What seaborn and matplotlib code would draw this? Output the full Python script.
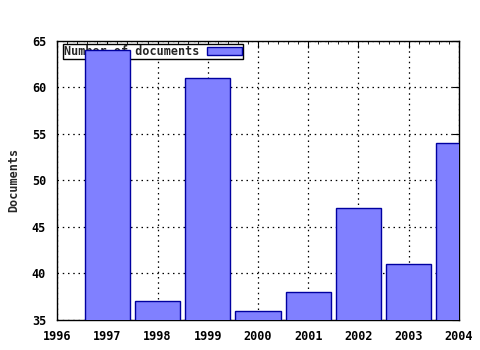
import matplotlib
matplotlib.use("Agg")
import matplotlib.pyplot as plt
import seaborn as sns
import pandas as pd
from matplotlib.ticker import MultipleLocator, FuncFormatter

years = [1997, 1998, 1999, 2000, 2001, 2002, 2003, 2004]
documents = [64, 37, 61, 36, 38, 47, 41, 54]
series_label = "Number of documents"

sns.set_style("white")
plt.rcParams['font.family'] = ['DejaVu Sans Mono']
plt.rcParams['font.weight'] = 'bold'

df = pd.DataFrame({"year": years, "docs": documents})

fig = plt.figure(figsize=(4.8, 3.5), dpi=100)
ax = fig.add_axes([0.119, 0.086, 0.837, 0.797])

sns.barplot(data=df, x="year", y="docs", native_scale=True, width=0.9,
            color="#8080ff", saturation=1, edgecolor="#0000a0", linewidth=1.0,
            label=series_label, ax=ax, zorder=3)

ax.set_xlim(1996, 2004)
ax.set_ylim(35, 65)
ax.xaxis.set_major_locator(MultipleLocator(1))
ax.xaxis.set_minor_locator(MultipleLocator(0.2))
ax.yaxis.set_major_locator(MultipleLocator(5))
ax.xaxis.set_major_formatter(FuncFormatter(lambda v, p: f"{int(round(v))}"))
ax.yaxis.set_major_formatter(FuncFormatter(lambda v, p: f"{int(round(v))}"))

ax.grid(True, which="major", color="black", linestyle=(0, (1.2, 3)), linewidth=0.9, zorder=1)
ax.set_axisbelow(True)
ax.tick_params(which="both", direction="in", top=True, right=True, colors="black", labelsize=8.5)
ax.tick_params(axis="x", which="major", length=5, width=0.8, pad=7)
ax.tick_params(axis="y", which="major", length=5, width=0.8, pad=8)
ax.tick_params(which="minor", length=2.5, width=0.6)
for s in ax.spines.values():
    s.set_color("black")
    s.set_linewidth(1.0)

ax.set_xlabel("")
ax.set_ylabel("Documents", fontsize=8.5, fontweight="bold", labelpad=8)

leg = ax.legend(loc="upper left", bbox_to_anchor=(0.015, 0.99), frameon=True, fancybox=False,
                edgecolor="black", framealpha=1, fontsize=8.5, markerfirst=False,
                borderpad=0.1, handlelength=3.0, handleheight=0.7, handletextpad=0.6,
                borderaxespad=0.0)
leg.get_frame().set_linewidth(1.0)
leg.set_zorder(2)

fig.savefig("out.png", dpi=100)
